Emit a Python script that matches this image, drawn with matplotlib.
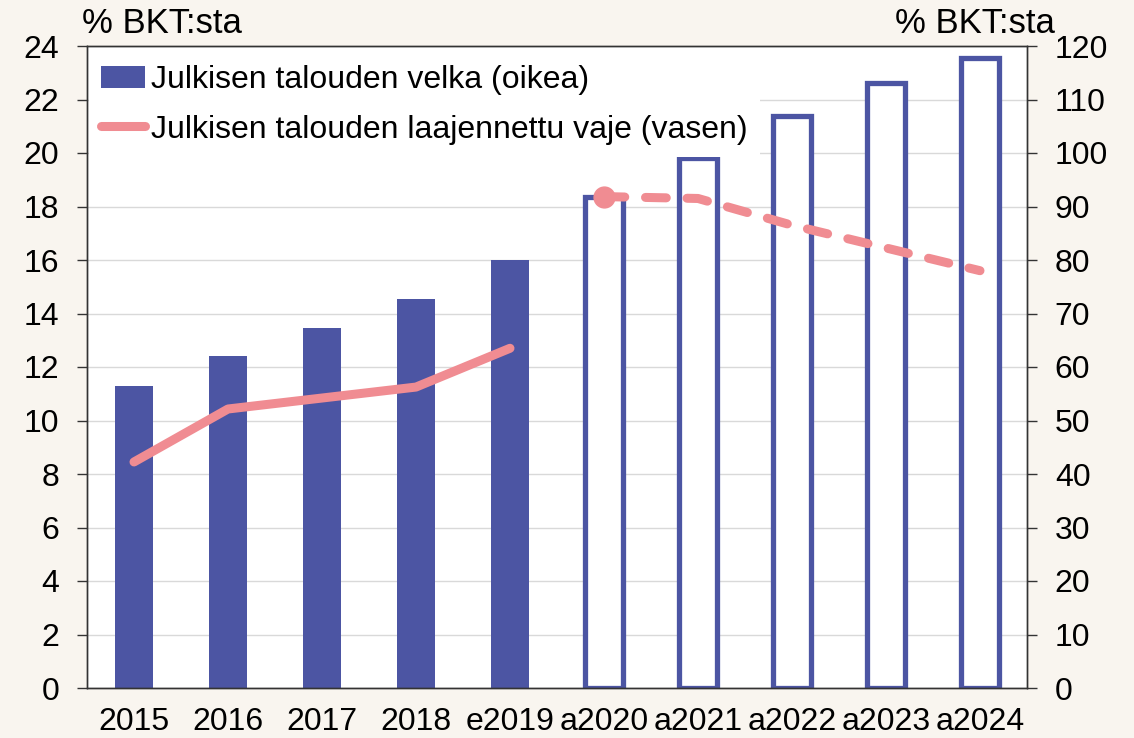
import numpy as np
import matplotlib.pyplot as plt
from matplotlib.patches import Patch
from matplotlib.lines import Line2D

plt.rcParams['font.family'] = ['Liberation Sans', 'DejaVu Sans']

# data
years = ['2015', '2016', '2017', '2018', 'e2019', 'a2020', 'a2021', 'a2022', 'a2023', 'a2024']
debt = [56.5, 62.0, 67.3, 72.7, 80.0, 91.7, 99.1, 107.0, 113.0, 117.8]       # right axis
deficit = [8.45, 10.43, 10.84, 11.25, 12.7, 18.37, 18.3, 17.3, 16.45, 15.6]  # left axis
n_actual = 5  # first five are outturn, rest forecast

bar_col = '#4c55a3'
line_col = '#f08c92'
bg = '#f9f5ef'
spine_col = '#333333'
fs = 23

fig = plt.figure(figsize=(11.34, 7.38), dpi=100, facecolor=bg)
ax_bar = fig.add_axes([87 / 1134, 50 / 738, 940 / 1134, 642 / 738])
ax_line = ax_bar.twinx()

x = np.arange(len(years))

# bars (right axis)
ax_bar.bar(x[:n_actual], debt[:n_actual], width=0.4, color=bar_col, linewidth=0, zorder=2)
ax_bar.bar(x[n_actual:], debt[n_actual:], width=0.4, facecolor='white', edgecolor=bar_col,
           linewidth=3.8, zorder=2)
ax_bar.set_ylim(0, 120)
ax_bar.set_yticks(np.arange(0, 121, 10))
ax_bar.yaxis.tick_right()
ax_bar.grid(axis='y', color='#d9d9d9', linewidth=1, zorder=0)
ax_bar.set_axisbelow(True)
ax_bar.set_xlim(-0.5, len(years) - 0.5)
ax_bar.set_xticks(x)
ax_bar.set_xticklabels(years)
ax_bar.set_facecolor('white')

# line (left axis)
ax_line.plot(x[:n_actual], deficit[:n_actual], color=line_col, lw=6.5,
             solid_capstyle='round', solid_joinstyle='round', zorder=3)
ax_line.plot(x[n_actual:], deficit[n_actual:], color=line_col, lw=6.5,
             ls=(0, (2.3, 2.3)), dash_capstyle='round', dash_joinstyle='round',
             marker='o', markersize=15, markevery=[0], zorder=3)
ax_line.set_ylim(0, 24)
ax_line.set_yticks(np.arange(0, 25, 2))
ax_line.yaxis.tick_left()

for a in (ax_bar, ax_line):
    for s in a.spines.values():
        s.set_color(spine_col)
        s.set_linewidth(1)
    a.tick_params(axis='y', labelsize=fs, length=7, width=1, color=spine_col, pad=13)
    a.tick_params(axis='x', labelsize=fs, length=0, pad=14)

handles = [Patch(facecolor=bar_col, edgecolor='none'),
           Line2D([0], [0], color=line_col, lw=6.5, solid_capstyle='round')]
labels = ['Julkisen talouden velka (oikea)', 'Julkisen talouden laajennettu vaje (vasen)']
leg = ax_line.legend(handles, labels, loc='upper left', bbox_to_anchor=(0, 1 - 5 / 642),
                     fontsize=fs, frameon=True, facecolor='white', edgecolor='none',
                     framealpha=1, fancybox=False, borderaxespad=0.05, borderpad=0.4,
                     labelspacing=0.6, handlelength=1.35, handletextpad=0.2)
leg.set_zorder(10)

fig.text(82 / 1134, 1 - 33 / 738, '% BKT:sta', fontsize=25, ha='left', va='baseline')
fig.text(1055 / 1134, 1 - 33 / 738, '% BKT:sta', fontsize=25, ha='right', va='baseline')

fig.savefig('out.png', dpi=100, facecolor=bg)
